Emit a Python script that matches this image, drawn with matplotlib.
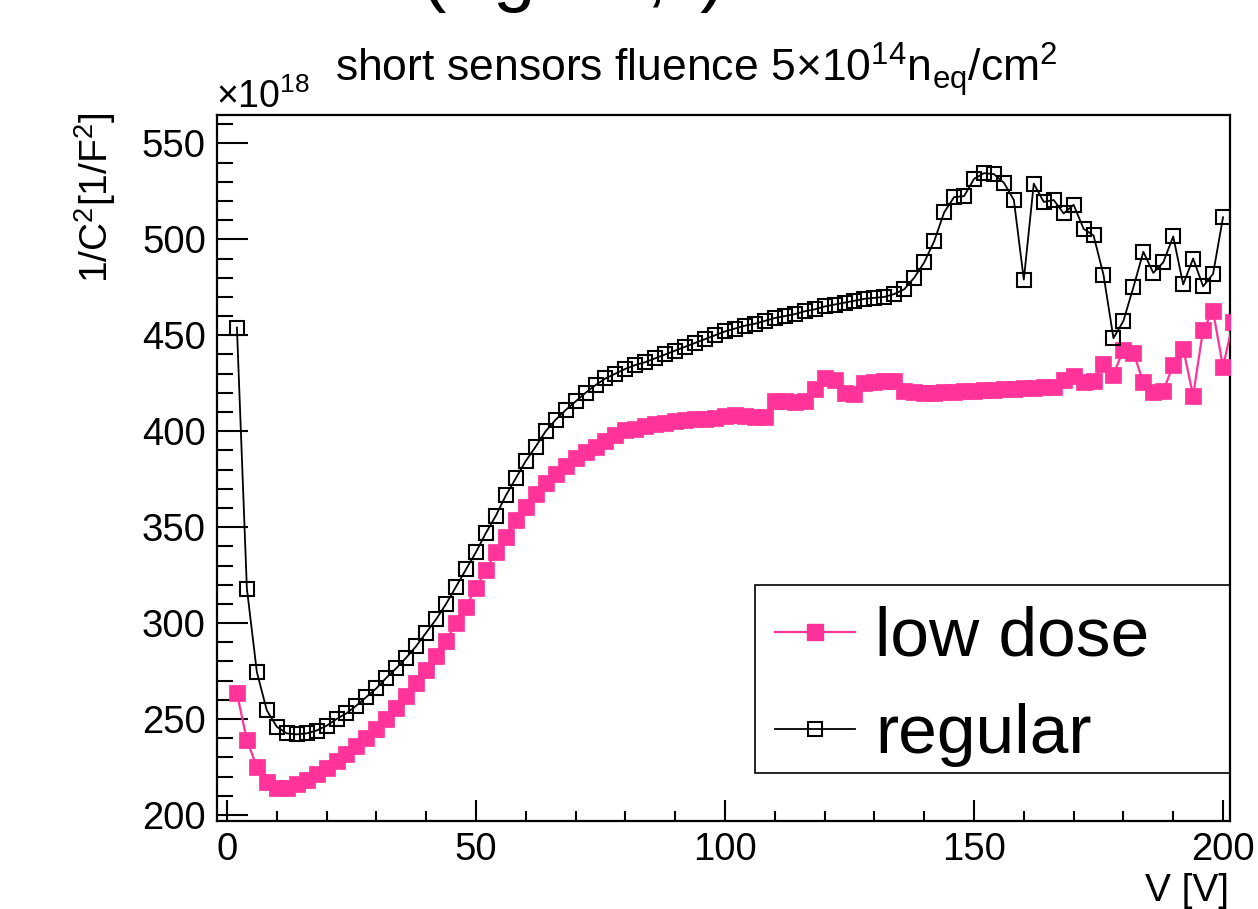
import numpy as np
import matplotlib
matplotlib.use("Agg")
import matplotlib.pyplot as plt
from matplotlib.ticker import MultipleLocator
from matplotlib.lines import Line2D
from matplotlib.patches import Rectangle

plt.rcParams['font.family'] = ['Liberation Sans', 'DejaVu Sans']
plt.rcParams['mathtext.fontset'] = 'custom'
plt.rcParams['mathtext.rm'] = 'Liberation Sans'
plt.rcParams['mathtext.it'] = 'Liberation Sans'
plt.rcParams['mathtext.bf'] = 'Liberation Sans'

# ---------------- data ----------------
voltage_regular = list(range(2, 202, 2))
regular = [
    454, 318, 274.5, 254.5, 246, 242.5, 242, 242.5, 244, 246.5,
    250, 253, 257, 261.5, 266, 271.5, 276.5, 282, 288, 295,
    302, 310, 319, 328, 337, 347, 356, 366.5, 375.5, 384.5,
    392, 400, 406, 411, 415.5, 420, 424, 427.5, 430, 432.5,
    434.5, 436, 438, 440, 442, 444, 446, 448, 450, 452,
    453.5, 455, 456, 457.5, 459, 460, 461, 462.5, 463.5, 465,
    466, 467, 468, 469, 469.5, 470, 471.5, 474, 480, 488,
    499, 514, 522, 522.5, 531.5, 534.5, 534, 529.5, 520.5, 479,
    529, 519.5, 520.5, 513.5, 518, 505.5, 502, 481.5, 448.5, 457.5,
    475, 493.5, 482.5, 488, 501.5, 476.5, 490, 475.5, 482, 511.5,
]

voltage_lowdose = list(range(2, 204, 2))
lowdose = [
    263.5, 239, 225, 217, 214, 214, 216.3, 218.4, 221.4, 224.5,
    228, 232, 235.7, 240, 244.8, 250, 255.7, 261.8, 268.8, 275.7,
    283, 290.4, 300, 308.6, 318.2, 327.8, 336.8, 345.1, 353.8, 360.7,
    367.5, 373, 377.5, 382, 386, 389.4, 392, 395, 398, 400.5,
    401, 402.5, 403.5, 404.5, 405.5, 406, 406.5, 406.5, 407, 408,
    408.5, 408, 407.5, 407.5, 415.5, 415.5, 415, 416, 422, 427.5,
    426.5, 420, 419.5, 425, 425.5, 426, 426, 421, 420.5, 420,
    420, 420.5, 420.5, 421, 421, 421.5, 421.5, 422, 422, 422.5,
    422.5, 423, 423, 426.5, 429, 425.5, 426, 435, 429.5, 442.5,
    441, 425.5, 420.5, 421, 434.5, 443, 418.5, 453, 462.5, 433.5,
    457,
]

x_ticks = [0, 50, 100, 150, 200]
y_ticks = [200, 250, 300, 350, 400, 450, 500, 550]
series_labels = ["low dose", "regular"]

PINK = "#ff3399"

W, H = 1258, 909
fig = plt.figure(figsize=(W / 100, H / 100), dpi=100)
ax = fig.add_axes([217 / W, 1 - 820.7 / H, (1230 - 217) / W, (820.7 - 115) / H])

ax.plot(voltage_lowdose, lowdose, color=PINK, lw=1.6, marker='s', ms=11,
        mfc=PINK, mec=PINK, mew=0.5, zorder=3)
ax.plot(voltage_regular, regular, color='black', lw=1.3, marker='s', ms=10.6,
        mfc='none', mec='black', mew=1.5, zorder=4)

ax.set_xlim(-2, 201.4)
ax.set_ylim(197, 564.8)
ax.set_xticks(x_ticks)
ax.set_yticks(y_ticks)
ax.xaxis.set_minor_locator(MultipleLocator(10))
ax.yaxis.set_minor_locator(MultipleLocator(10))
ax.tick_params(axis='both', which='both', direction='in', top=False, right=False,
               labelsize=27.5, width=1.5)
ax.tick_params(axis='y', which='major', length=22, pad=8)
ax.tick_params(axis='y', which='minor', length=11.5)
ax.tick_params(axis='x', which='major', length=15, pad=8)
ax.tick_params(axis='x', which='minor', length=7.5)
for s in ax.spines.values():
    s.set_linewidth(1.6)

# texts
fig.text(696 / W, 1 - 82 / H,
         r'short sensors fluence 5$\times$10$^{14}$n$_{\rm eq}$/cm$^{2}$',
         ha='center', va='baseline', fontsize=32)
fig.text(216 / W, 1 - 108 / H, r'$\times$10$^{18}$', ha='left', va='baseline',
         fontsize=27)
fig.text(95 / W, 1 - 112 / H, r'1/C$^{2}$[1/F$^{2}$]', rotation=90,
         ha='center', va='top', fontsize=28)
fig.text(1229 / W, 1 - 873 / H, 'V [V]', ha='right', va='top', fontsize=28)

# partially visible text cut by the top edge
for ch, xp in [("(", 420), ("g", 493), (",", 645), (")", 700)]:
    fig.text(xp / W, 1 + 3 / H, ch, ha='left', va='baseline', fontsize=55)

# legend
fig.add_artist(Rectangle((755 / W, 1 - 773 / H), (1230 - 755) / W, (773 - 585) / H,
                         transform=fig.transFigure, fill=False, ec='black', lw=1.2))
handles = [
    Line2D([], [], color=PINK, lw=1.6, marker='s', ms=11, mfc=PINK, mec=PINK),
    Line2D([], [], color='black', lw=1.3, marker='s', ms=10.6, mfc='none',
           mec='black', mew=1.5),
]
fig.legend(handles, series_labels, loc='upper left',
           bbox_to_anchor=(775 / W, 1 - 606 / H), bbox_transform=fig.transFigure,
           frameon=False, fontsize=50, borderpad=0, borderaxespad=0,
           handlelength=1.15, handletextpad=0.29, labelspacing=0.48)

fig.savefig("out.png", dpi=100)
